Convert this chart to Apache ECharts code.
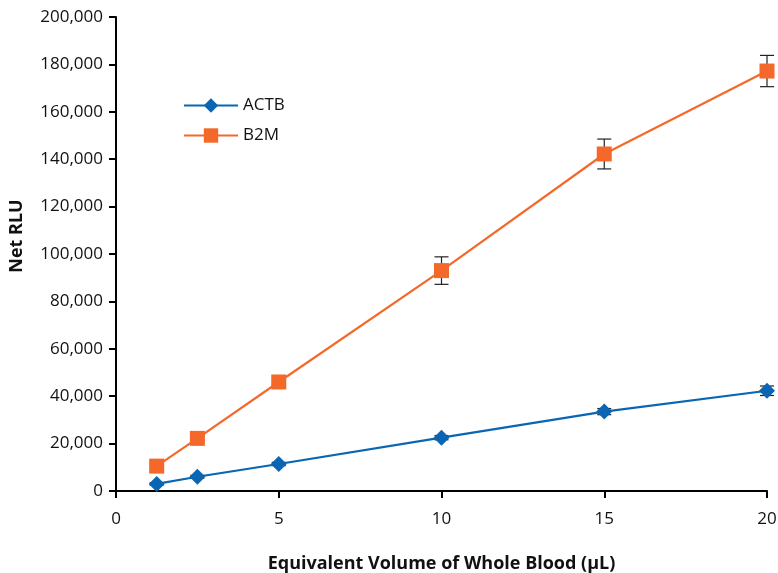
<!DOCTYPE html>
<html><head><meta charset="utf-8">
<script src="https://cdn.jsdelivr.net/npm/echarts@6/dist/echarts.min.js"></script>
<style>html,body{margin:0;padding:0;background:#fff}#c{width:778px;height:573px}</style>
</head><body><div id="c"></div>
<script>
const volumes = [1.25, 2.5, 5, 10, 15, 20];
const actb = [3000, 6000, 11400, 22500, 33500, 42300];
const actbErr = [500, 600, 700, 900, 1300, 2000];
const b2m = [10500, 22200, 46000, 93000, 142200, 177200];
const b2mErr = [900, 1000, 1200, 5800, 6300, 6600];
const xTicks = [0, 5, 10, 15, 20];
const yMax = 200000;

const font = '"Open Sans", "Noto Sans", sans-serif';
const blue = '#0a66b2';
const orange = '#f4692a';

function errSeries(vals, errs, name) {
  return {
    type: 'custom', name: name + ' err', silent: true, z: 1,
    data: volumes.map((v, i) => [v, vals[i] - errs[i], vals[i] + errs[i]]),
    renderItem: function (params, api) {
      const lo = api.coord([api.value(0), api.value(1)]);
      const hi = api.coord([api.value(0), api.value(2)]);
      const w = 7;
      const st = { stroke: '#222', lineWidth: 1.2 };
      return { type: 'group', children: [
        { type: 'line', shape: { x1: lo[0], y1: lo[1], x2: hi[0], y2: hi[1] }, style: st },
        { type: 'line', shape: { x1: lo[0] - w, y1: lo[1], x2: lo[0] + w, y2: lo[1] }, style: st },
        { type: 'line', shape: { x1: hi[0] - w, y1: hi[1], x2: hi[0] + w, y2: hi[1] }, style: st }
      ]};
    }
  };
}

const chart = echarts.init(document.getElementById('c'));
chart.setOption({
  animation: false,
  textStyle: { fontFamily: font },
  grid: { left: 116, right: 11, top: 17, bottom: 82, containLabel: false, outerBoundsMode: 'none' },
  legend: {
    data: ['ACTB', 'B2M'], orient: 'vertical', left: 178, top: 92,
    itemWidth: 54, itemHeight: 18, itemGap: 13,
    textStyle: { fontSize: 17, color: '#111', fontFamily: font }
  },
  xAxis: {
    type: 'value', min: 0, max: 20, interval: 5,
    name: 'Equivalent Volume of Whole Blood (µL)', nameLocation: 'middle', nameGap: 64,
    nameTextStyle: { fontSize: 18, fontWeight: 'bold', color: '#111', fontFamily: font },
    axisLine: { lineStyle: { color: '#000', width: 2 } },
    axisTick: { show: true, length: 7, lineStyle: { color: '#000', width: 2 } },
    axisLabel: { fontSize: 17, color: '#111', margin: 20, fontFamily: font,
      formatter: v => xTicks.includes(v) ? String(v) : '' },
    splitLine: { show: false }
  },
  yAxis: {
    type: 'value', min: 0, max: yMax, interval: 20000,
    name: 'Net RLU', nameLocation: 'middle', nameGap: 90, nameRotate: 90,
    nameTextStyle: { fontSize: 18, fontWeight: 'bold', color: '#111', fontFamily: font,
      padding: [0, 0, 0, 36] },
    axisLine: { show: true, lineStyle: { color: '#000', width: 2 } },
    axisTick: { show: true, length: 7, lineStyle: { color: '#000', width: 2 } },
    axisLabel: { fontSize: 17, color: '#111', margin: 13, fontFamily: font,
      formatter: v => v.toLocaleString('en-US') },
    splitLine: { show: false }
  },
  series: [
    errSeries(actb, actbErr, 'ACTB'),
    errSeries(b2m, b2mErr, 'B2M'),
    { name: 'ACTB', type: 'line', z: 3, data: volumes.map((v, i) => [v, actb[i]]),
      symbol: 'diamond', symbolSize: 16, itemStyle: { color: blue },
      lineStyle: { color: blue, width: 2.2 } },
    { name: 'B2M', type: 'line', z: 3, data: volumes.map((v, i) => [v, b2m[i]]),
      symbol: 'rect', symbolSize: 15, itemStyle: { color: orange },
      lineStyle: { color: orange, width: 2.2 } }
  ]
});
</script></body></html>
